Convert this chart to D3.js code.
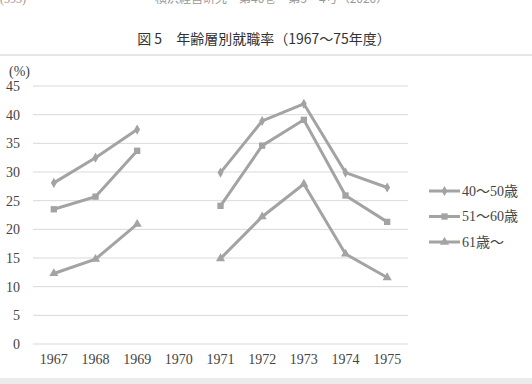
<!DOCTYPE html>
<html>
<head>
<meta charset="utf-8">
<script src="https://cdn.jsdelivr.net/npm/d3@7"></script>
<style>
  body { margin: 0; background: #fff; }
  svg { display: block; }
  .serif { font-family: "Liberation Serif", "Times New Roman", "Noto Sans CJK JP", serif; }
  .sans { font-family: "Noto Sans CJK JP", sans-serif; }
</style>
</head>
<body>
<svg id="chart" width="532" height="384"></svg>
<script>
// data (1970 has no value)
var years = ['1967', '1968', '1969', '1970', '1971', '1972', '1973', '1974', '1975'];
var age40to50 = [28.1, 32.5, 37.4, null, 29.9, 38.9, 41.9, 29.9, 27.3];
var age51to60 = [23.5, 25.7, 33.7, null, 24.1, 34.6, 39.1, 25.9, 21.3];
var age61plus = [12.3, 14.8, 20.9, null, 14.9, 22.2, 27.9, 15.7, 11.6];
var seriesNames = ['40〜50歳', '51〜60歳', '61歳〜'];
var yTicks = [0, 5, 10, 15, 20, 25, 30, 35, 40, 45];

var series = [
  { name: seriesNames[0], values: age40to50, symbol: d3.symbolDiamond, size: 30 },
  { name: seriesNames[1], values: age51to60, symbol: d3.symbolSquare, size: 40 },
  { name: seriesNames[2], values: age61plus, symbol: d3.symbolTriangle, size: 36 }
];

var svg = d3.select('#chart');
var lineColor = '#a3a3a3';
var textColor = '#444';

// page furniture: running header (cut off at the top, as in the scan), title, bands
svg.append('text')
  .attr('class', 'serif')
  .attr('x', 0).attr('y', 3)
  .attr('font-size', 12).attr('fill', '#999')
  .text('(393)');
svg.append('text')
  .attr('class', 'sans')
  .attr('x', 155).attr('y', 3)
  .attr('font-size', 12).attr('fill', '#999')
  .text('横浜経営研究　第40巻　第3・4号（2020）');

svg.append('text')
  .attr('class', 'sans')
  .attr('x', 264).attr('y', 44)
  .attr('text-anchor', 'middle')
  .attr('font-size', 14).attr('fill', '#333')
  .text('図 5　年齢層別就職率（1967〜75年度）');

svg.append('rect').attr('x', 0).attr('y', 54).attr('width', 532).attr('height', 2).attr('fill', '#e6e6e6');
svg.append('rect').attr('x', 0).attr('y', 378).attr('width', 532).attr('height', 6).attr('fill', '#ebebeb');

// scales
var x = d3.scaleBand().domain(years).range([33, 408]);
var y = d3.scaleLinear().domain([0, 45]).range([344, 86]);

// gridlines
svg.append('g')
  .selectAll('line')
  .data(yTicks).enter()
  .append('line')
  .attr('x1', 33).attr('x2', 408)
  .attr('y1', function(d) { return y(d); })
  .attr('y2', function(d) { return y(d); })
  .attr('stroke', '#d9d9d9')
  .attr('stroke-width', 1);

// y axis labels
var yAxis = svg.append('g')
  .attr('transform', 'translate(20,0)')
  .call(d3.axisLeft(y).tickValues(yTicks).tickSize(0).tickPadding(0));
yAxis.select('.domain').remove();
yAxis.attr('font-family', null).attr('font-size', null);
yAxis.selectAll('text')
  .attr('class', 'serif').attr('font-size', 14).attr('fill', textColor);

svg.append('text')
  .attr('class', 'serif')
  .attr('x', 9).attr('y', 76)
  .attr('font-size', 14).attr('fill', textColor)
  .text('(%)');

// x axis labels
var xAxis = svg.append('g')
  .attr('transform', 'translate(0,350)')
  .call(d3.axisBottom(x).tickSize(0).tickPadding(4));
xAxis.select('.domain').remove();
xAxis.attr('font-family', null).attr('font-size', null);
xAxis.selectAll('text')
  .attr('class', 'serif').attr('font-size', 14).attr('fill', textColor);

// lines
var line = d3.line()
  .defined(function(d) { return d != null; })
  .x(function(d, i) { return x(years[i]) + x.bandwidth() / 2; })
  .y(function(d) { return y(d); });

series.forEach(function(s) {
  var g = svg.append('g');
  g.append('path')
    .attr('d', line(s.values))
    .attr('fill', 'none')
    .attr('stroke', lineColor)
    .attr('stroke-width', 3);
  g.selectAll('path.marker')
    .data(s.values.map(function(v, i) { return { v: v, i: i }; }).filter(function(d) { return d.v != null; }))
    .enter()
    .append('path')
    .attr('class', 'marker')
    .attr('d', d3.symbol().type(s.symbol).size(s.size))
    .attr('transform', function(d) {
      return 'translate(' + (x(years[d.i]) + x.bandwidth() / 2) + ',' + y(d.v) + ')';
    })
    .attr('fill', lineColor);
});

// legend
var legend = svg.append('g')
  .selectAll('g')
  .data(series).enter()
  .append('g')
  .attr('transform', function(d, i) { return 'translate(429,' + (191 + i * 25.5) + ')'; });
legend.append('line')
  .attr('x1', 0).attr('x2', 31)
  .attr('stroke', lineColor).attr('stroke-width', 3);
legend.append('path')
  .attr('d', function(d) { return d3.symbol().type(d.symbol).size(d.size)(); })
  .attr('transform', 'translate(15.5,0)')
  .attr('fill', lineColor);
legend.append('text')
  .attr('class', 'serif')
  .attr('x', 33).attr('y', 0).attr('dy', '0.35em')
  .attr('font-size', 14).attr('fill', textColor)
  .text(function(d) { return d.name; });
</script>
</body>
</html>
